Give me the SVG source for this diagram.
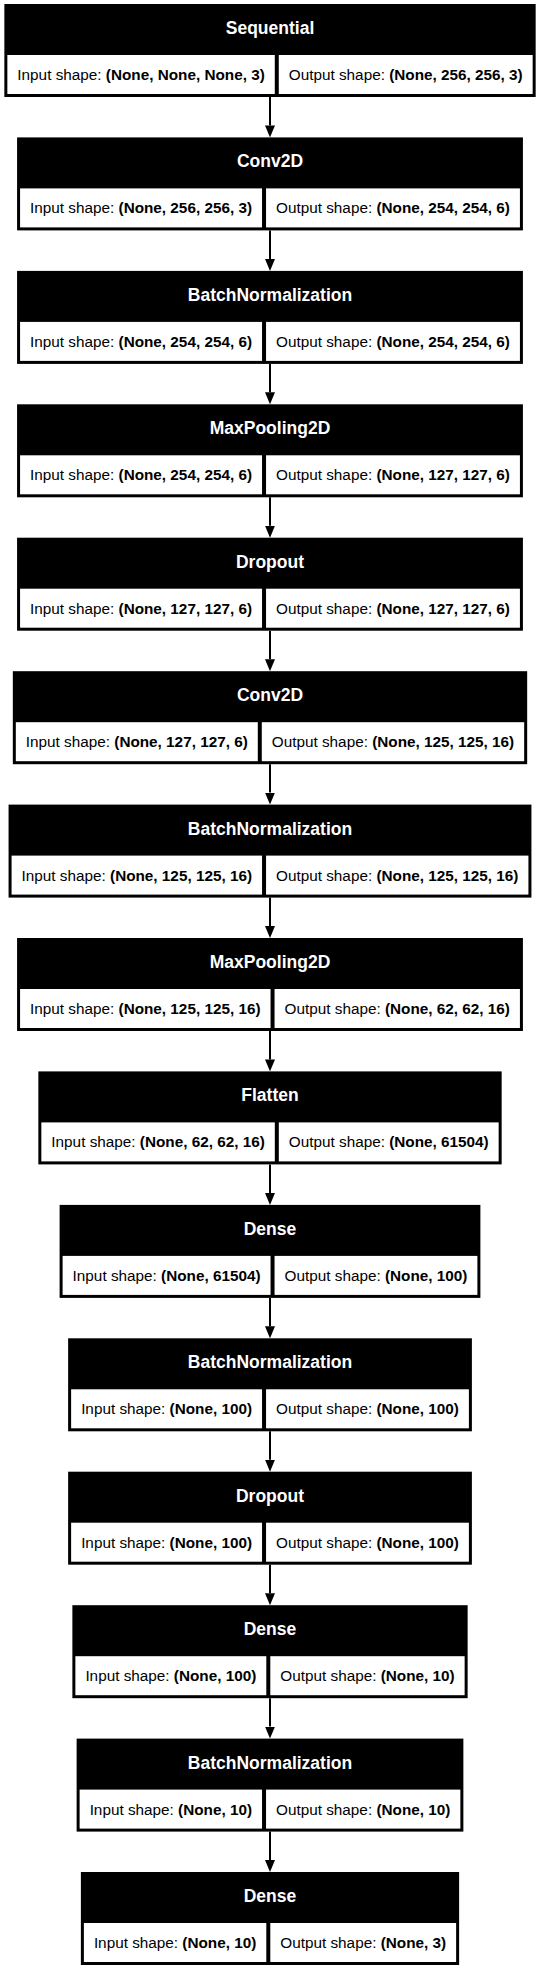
<svg xmlns="http://www.w3.org/2000/svg" width="540" height="1969" viewBox="0 0 540 1969">
<style>
.bg{fill:#ffffff}
.box{fill:#000000}
.cell{fill:#ffffff}
.hd{font-family:"Liberation Sans",Arial,sans-serif;font-size:17.5px;font-weight:bold;fill:#ffffff;text-anchor:middle}
.tx{font-family:"Liberation Sans",Arial,sans-serif;font-size:15.3px;fill:#000000;text-anchor:middle}
.b{font-weight:bold}
.edge{stroke:#000000;stroke-width:2;fill:none}
</style>
<defs>
<marker id="arr" viewBox="0 0 12 10" refX="0" refY="5" markerWidth="12" markerHeight="10" markerUnits="userSpaceOnUse" orient="auto">
<path d="M0,0 L12,5 L0,10 z" fill="#000000"/>
</marker>
</defs>
<rect class="bg" x="0" y="0" width="540" height="1969"/>
<g id="connectors">
<line class="edge" x1="270" y1="97" x2="270" y2="125.4" marker-end="url(#arr)"/>
<line class="edge" x1="270" y1="230.4" x2="270" y2="258.9" marker-end="url(#arr)"/>
<line class="edge" x1="270" y1="363.9" x2="270" y2="392.3" marker-end="url(#arr)"/>
<line class="edge" x1="270" y1="497.3" x2="270" y2="525.7" marker-end="url(#arr)"/>
<line class="edge" x1="270" y1="630.7" x2="270" y2="659.2" marker-end="url(#arr)"/>
<line class="edge" x1="270" y1="764.2" x2="270" y2="792.6" marker-end="url(#arr)"/>
<line class="edge" x1="270" y1="897.6" x2="270" y2="926" marker-end="url(#arr)"/>
<line class="edge" x1="270" y1="1031" x2="270" y2="1059.4" marker-end="url(#arr)"/>
<line class="edge" x1="270" y1="1164.4" x2="270" y2="1192.9" marker-end="url(#arr)"/>
<line class="edge" x1="270" y1="1297.9" x2="270" y2="1326.3" marker-end="url(#arr)"/>
<line class="edge" x1="270" y1="1431.3" x2="270" y2="1459.7" marker-end="url(#arr)"/>
<line class="edge" x1="270" y1="1564.7" x2="270" y2="1593.2" marker-end="url(#arr)"/>
<line class="edge" x1="270" y1="1698.2" x2="270" y2="1726.6" marker-end="url(#arr)"/>
<line class="edge" x1="270" y1="1831.6" x2="270" y2="1860" marker-end="url(#arr)"/>
</g>
<g id="node-sequential" transform="translate(0,4)">
<rect class="box" x="4.35" y="0" width="531.31" height="93"/>
<rect class="cell" x="7.35" y="51" width="267.43" height="39"/>
<rect class="cell" x="278.78" y="51" width="253.88" height="39"/>
<text class="hd" x="270" y="30">Sequential</text>
<text class="tx" x="141.06" y="76">Input shape: <tspan class="b">(None, None, None, 3)</tspan></text>
<text class="tx" x="405.72" y="76">Output shape: <tspan class="b">(None, 256, 256, 3)</tspan></text>
</g>
<g id="node-conv2d-1" transform="translate(0,137.4)">
<rect class="box" x="17.07" y="0" width="505.85" height="93"/>
<rect class="cell" x="20.07" y="51" width="241.97" height="39"/>
<rect class="cell" x="266.04" y="51" width="253.88" height="39"/>
<text class="hd" x="270" y="30">Conv2D</text>
<text class="tx" x="141.06" y="76">Input shape: <tspan class="b">(None, 256, 256, 3)</tspan></text>
<text class="tx" x="392.98" y="76">Output shape: <tspan class="b">(None, 254, 254, 6)</tspan></text>
</g>
<g id="node-batchnorm-1" transform="translate(0,270.9)">
<rect class="box" x="17.07" y="0" width="505.85" height="93"/>
<rect class="cell" x="20.07" y="51" width="241.97" height="39"/>
<rect class="cell" x="266.04" y="51" width="253.88" height="39"/>
<text class="hd" x="270" y="30">BatchNormalization</text>
<text class="tx" x="141.06" y="76">Input shape: <tspan class="b">(None, 254, 254, 6)</tspan></text>
<text class="tx" x="392.98" y="76">Output shape: <tspan class="b">(None, 254, 254, 6)</tspan></text>
</g>
<g id="node-maxpool-1" transform="translate(0,404.3)">
<rect class="box" x="17.07" y="0" width="505.85" height="93"/>
<rect class="cell" x="20.07" y="51" width="241.97" height="39"/>
<rect class="cell" x="266.04" y="51" width="253.88" height="39"/>
<text class="hd" x="270" y="30">MaxPooling2D</text>
<text class="tx" x="141.06" y="76">Input shape: <tspan class="b">(None, 254, 254, 6)</tspan></text>
<text class="tx" x="392.98" y="76">Output shape: <tspan class="b">(None, 127, 127, 6)</tspan></text>
</g>
<g id="node-dropout-1" transform="translate(0,537.7)">
<rect class="box" x="17.07" y="0" width="505.85" height="93"/>
<rect class="cell" x="20.07" y="51" width="241.97" height="39"/>
<rect class="cell" x="266.04" y="51" width="253.88" height="39"/>
<text class="hd" x="270" y="30">Dropout</text>
<text class="tx" x="141.06" y="76">Input shape: <tspan class="b">(None, 127, 127, 6)</tspan></text>
<text class="tx" x="392.98" y="76">Output shape: <tspan class="b">(None, 127, 127, 6)</tspan></text>
</g>
<g id="node-conv2d-2" transform="translate(0,671.2)">
<rect class="box" x="12.82" y="0" width="514.35" height="93"/>
<rect class="cell" x="15.82" y="51" width="241.97" height="39"/>
<rect class="cell" x="261.79" y="51" width="262.38" height="39"/>
<text class="hd" x="270" y="30">Conv2D</text>
<text class="tx" x="136.81" y="76">Input shape: <tspan class="b">(None, 127, 127, 6)</tspan></text>
<text class="tx" x="392.98" y="76">Output shape: <tspan class="b">(None, 125, 125, 16)</tspan></text>
</g>
<g id="node-batchnorm-2" transform="translate(0,804.6)">
<rect class="box" x="8.57" y="0" width="522.86" height="93"/>
<rect class="cell" x="11.57" y="51" width="250.48" height="39"/>
<rect class="cell" x="266.05" y="51" width="262.38" height="39"/>
<text class="hd" x="270" y="30">BatchNormalization</text>
<text class="tx" x="136.81" y="76">Input shape: <tspan class="b">(None, 125, 125, 16)</tspan></text>
<text class="tx" x="397.24" y="76">Output shape: <tspan class="b">(None, 125, 125, 16)</tspan></text>
</g>
<g id="node-maxpool-2" transform="translate(0,938)">
<rect class="box" x="17.07" y="0" width="505.85" height="93"/>
<rect class="cell" x="20.07" y="51" width="250.48" height="39"/>
<rect class="cell" x="274.55" y="51" width="245.37" height="39"/>
<text class="hd" x="270" y="30">MaxPooling2D</text>
<text class="tx" x="145.31" y="76">Input shape: <tspan class="b">(None, 125, 125, 16)</tspan></text>
<text class="tx" x="397.24" y="76">Output shape: <tspan class="b">(None, 62, 62, 16)</tspan></text>
</g>
<g id="node-flatten" transform="translate(0,1071.4)">
<rect class="box" x="38.34" y="0" width="463.32" height="93"/>
<rect class="cell" x="41.34" y="51" width="233.47" height="39"/>
<rect class="cell" x="278.81" y="51" width="219.85" height="39"/>
<text class="hd" x="270" y="30">Flatten</text>
<text class="tx" x="158.08" y="76">Input shape: <tspan class="b">(None, 62, 62, 16)</tspan></text>
<text class="tx" x="388.74" y="76">Output shape: <tspan class="b">(None, 61504)</tspan></text>
</g>
<g id="node-dense-1" transform="translate(0,1204.9)">
<rect class="box" x="59.6" y="0" width="420.79" height="93"/>
<rect class="cell" x="62.6" y="51" width="207.95" height="39"/>
<rect class="cell" x="274.55" y="51" width="202.84" height="39"/>
<text class="hd" x="270" y="30">Dense</text>
<text class="tx" x="166.58" y="76">Input shape: <tspan class="b">(None, 61504)</tspan></text>
<text class="tx" x="375.97" y="76">Output shape: <tspan class="b">(None, 100)</tspan></text>
</g>
<g id="node-batchnorm-3" transform="translate(0,1338.3)">
<rect class="box" x="68.12" y="0" width="403.77" height="93"/>
<rect class="cell" x="71.12" y="51" width="190.93" height="39"/>
<rect class="cell" x="266.05" y="51" width="202.84" height="39"/>
<text class="hd" x="270" y="30">BatchNormalization</text>
<text class="tx" x="166.58" y="76">Input shape: <tspan class="b">(None, 100)</tspan></text>
<text class="tx" x="367.47" y="76">Output shape: <tspan class="b">(None, 100)</tspan></text>
</g>
<g id="node-dropout-2" transform="translate(0,1471.7)">
<rect class="box" x="68.12" y="0" width="403.77" height="93"/>
<rect class="cell" x="71.12" y="51" width="190.93" height="39"/>
<rect class="cell" x="266.05" y="51" width="202.84" height="39"/>
<text class="hd" x="270" y="30">Dropout</text>
<text class="tx" x="166.58" y="76">Input shape: <tspan class="b">(None, 100)</tspan></text>
<text class="tx" x="367.47" y="76">Output shape: <tspan class="b">(None, 100)</tspan></text>
</g>
<g id="node-dense-2" transform="translate(0,1605.2)">
<rect class="box" x="72.37" y="0" width="395.26" height="93"/>
<rect class="cell" x="75.37" y="51" width="190.93" height="39"/>
<rect class="cell" x="270.3" y="51" width="194.33" height="39"/>
<text class="hd" x="270" y="30">Dense</text>
<text class="tx" x="170.84" y="76">Input shape: <tspan class="b">(None, 100)</tspan></text>
<text class="tx" x="367.47" y="76">Output shape: <tspan class="b">(None, 10)</tspan></text>
</g>
<g id="node-batchnorm-4" transform="translate(0,1738.6)">
<rect class="box" x="76.62" y="0" width="386.75" height="93"/>
<rect class="cell" x="79.62" y="51" width="182.42" height="39"/>
<rect class="cell" x="266.04" y="51" width="194.33" height="39"/>
<text class="hd" x="270" y="30">BatchNormalization</text>
<text class="tx" x="170.83" y="76">Input shape: <tspan class="b">(None, 10)</tspan></text>
<text class="tx" x="363.2" y="76">Output shape: <tspan class="b">(None, 10)</tspan></text>
</g>
<g id="node-dense-3" transform="translate(0,1872)">
<rect class="box" x="80.88" y="0" width="378.24" height="93"/>
<rect class="cell" x="83.88" y="51" width="182.42" height="39"/>
<rect class="cell" x="270.3" y="51" width="185.82" height="39"/>
<text class="hd" x="270" y="30">Dense</text>
<text class="tx" x="175.09" y="76">Input shape: <tspan class="b">(None, 10)</tspan></text>
<text class="tx" x="363.21" y="76">Output shape: <tspan class="b">(None, 3)</tspan></text>
</g>
</svg>
